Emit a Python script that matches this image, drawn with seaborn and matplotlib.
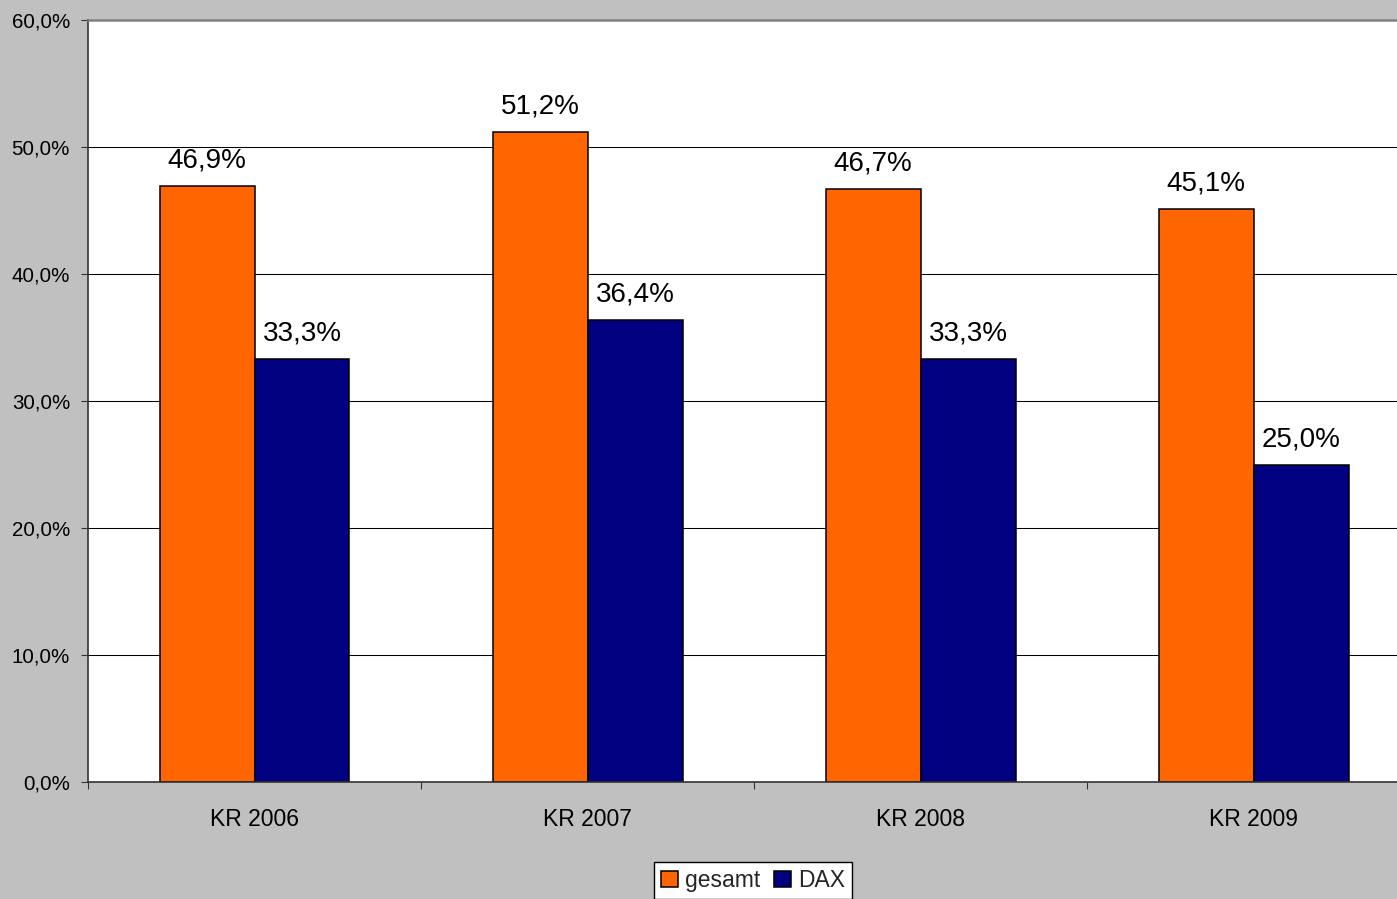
import pandas as pd
import matplotlib.pyplot as plt
import seaborn as sns

# Data
categories = ["KR 2006", "KR 2007", "KR 2008", "KR 2009"]
gesamt = [46.9, 51.2, 46.7, 45.1]
dax = [33.3, 36.4, 33.3, 25.0]
series = ["gesamt", "DAX"]
yticks = [0, 10, 20, 30, 40, 50, 60]

df = pd.DataFrame({
    "cat": categories * 2,
    "serie": [series[0]] * len(categories) + [series[1]] * len(categories),
    "wert": gesamt + dax,
})

sns.set_theme(style="white")
plt.rcParams["font.family"] = ["Liberation Sans", "DejaVu Sans"]

fig = plt.figure(figsize=(13.97, 8.99), dpi=100, facecolor="#C0C0C0")
ax = fig.add_axes([88 / 1397, 117 / 899, 1309 / 1397, 762 / 899])
ax.set_facecolor("white")

sns.barplot(data=df, x="cat", y="wert", hue="serie", hue_order=series,
            palette=["#FF6600", "#000080"], width=0.57, gap=0,
            edgecolor="black", linewidth=1.1, saturation=1, ax=ax, legend=True)

# labels over bars
for cont in ax.containers:
    vals = [b.get_height() for b in cont]
    ax.bar_label(cont, labels=[f"{v:.1f}%".replace(".", ",") for v in vals],
                 padding=9, fontsize=20, color="black")

ax.set_ylim(0, 60)
ax.set_xlim(-0.5, 3.43)
ax.set_yticks(yticks)
ax.set_yticklabels([f"{v:.1f}%".replace(".", ",") for v in yticks], fontsize=14.8)
ax.set_xticks(range(len(categories)))
ax.set_xticklabels(categories, fontsize=16.5)
ax.set_xticks([-0.5, 0.5, 1.5, 2.5], minor=True)
ax.tick_params(axis="x", which="major", length=0, pad=19, colors="black")
ax.tick_params(axis="x", which="minor", length=5, width=0.8, color="#333333", bottom=True)
ax.tick_params(axis="y", length=5, width=0.8, color="#333333", pad=8, left=True, labelcolor="black")
ax.set_xlabel("")
ax.set_ylabel("")
ax.yaxis.grid(True, color="black", linewidth=0.75)
ax.set_axisbelow(True)

for s in ["left", "bottom"]:
    ax.spines[s].set_color("#333333")
    ax.spines[s].set_linewidth(1.2)
ax.spines["top"].set_color("#808080")
ax.spines["top"].set_linewidth(1.8)
ax.spines["right"].set_visible(False)

handles, labels = ax.get_legend_handles_labels()
ax.get_legend().remove()
leg = fig.legend(handles, labels, loc="upper center", bbox_to_anchor=(0.5387, 0.041),
                 ncol=2, fontsize=16.5, frameon=True, fancybox=False, framealpha=1,
                 edgecolor="black", handlelength=0.75, handleheight=0.75,
                 handletextpad=0.3, columnspacing=0.6, borderpad=0.3,
                 borderaxespad=0)
leg.get_frame().set_linewidth(1.0)

fig.savefig("out.png", dpi=100, facecolor=fig.get_facecolor())
